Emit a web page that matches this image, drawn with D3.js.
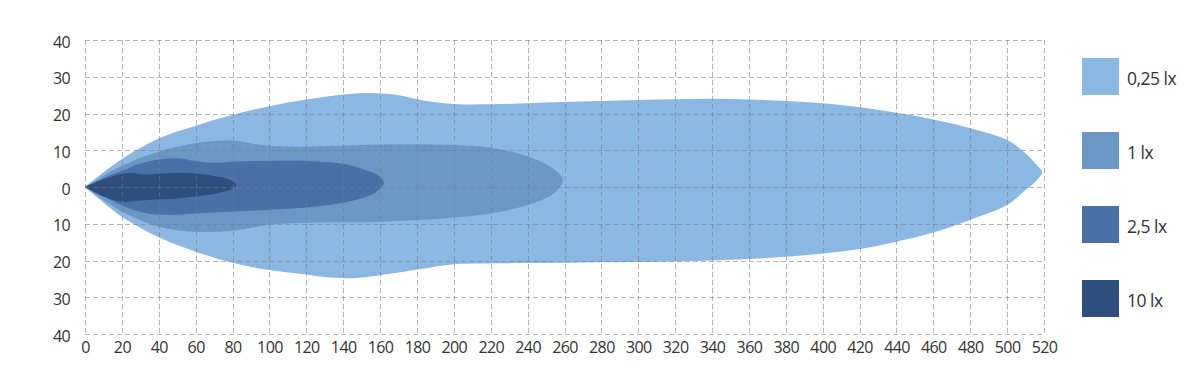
<!DOCTYPE html>
<html><head><meta charset="utf-8">
<script src="https://cdn.jsdelivr.net/npm/d3@7"></script>
<style>
html,body{margin:0;padding:0;background:#fff;}
svg{display:block;font-family:"Open Sans",sans-serif;}
</style></head>
<body><svg id="chart" width="1200" height="382"></svg>
<script>
// Tick labels
const xTicks = d3.range(0, 521, 20);
const yTicks = [40, 30, 20, 10, 0, -10, -20, -30, -40];
const legendLabels = ["0,25 lx", "1 lx", "2,5 lx", "10 lx"];
const levelColors = ["#8ab8e2", "#6b97c5", "#4971a7", "#2e4f7e"];

// Isolux contours: [distance, lateral]
const lux025Upper = [[0,0],[20,7.6],[40,13.2],[60,16.7],[80,19.6],[100,22],[120,23.8],[140,25.2],[155,25.6],[170,25],[185,23.4],[200,22.6],[220,22.5],[240,22.8],[260,23.1],[280,23.4],[300,23.7],[320,23.9],[340,24],[360,23.8],[380,23.4],[400,22.8],[420,21.7],[440,20.2],[460,18.4],[480,16],[500,12.8],[510,9.2],[516,6],[519,4]];
const lux025Lower = [[519,4],[516,1.8],[510,-0.8],[500,-4.9],[480,-8.9],[460,-12.4],[440,-14.9],[420,-16.9],[400,-18.1],[380,-19],[360,-19.6],[340,-20],[320,-20.3],[300,-20.4],[280,-20.5],[260,-20.6],[240,-20.7],[215,-20.8],[200,-21],[182,-22.3],[160,-24],[145,-24.8],[130,-24.5],[120,-23.8],[100,-22.6],[80,-20.6],[60,-17.6],[40,-13.7],[20,-8.1],[0,0]];

const lux1Upper = [[0,0],[20,5.8],[40,9.6],[60,11.9],[80,12.6],[95,11.5],[110,11],[140,11.3],[170,11.6],[200,11.4],[220,10.7],[240,8.3],[252,5.6],[259,2.2]];
const lux1Lower = [[259,2.2],[255,-1.4],[240,-4.9],[220,-7.2],[200,-8.3],[180,-9],[160,-9.5],[140,-9.6],[120,-9.7],[100,-10.3],[80,-11.9],[60,-12.2],[40,-10.8],[20,-6.7],[0,0]];

const lux25Upper = [[0,0],[10,2.4],[20,4.4],[30,6.4],[40,7.5],[50,7.8],[60,7],[70,6.6],[80,6.9],[100,7.1],[120,7.1],[140,6.3],[152,4.6],[160,2.8],[162,1.2]];
const lux25Lower = [[162,1.2],[160,-0.5],[155,-2.2],[140,-4.3],[120,-5.6],[100,-6.2],[80,-6.7],[60,-7.2],[45,-7.6],[35,-7.3],[20,-5],[10,-2.5],[0,0]];

const lux10Upper = [[0,0],[10,2.1],[20,3.6],[25,3.8],[32,3.4],[40,3.6],[50,3.8],[60,3.7],[70,3],[78,2.1],[82,0.6]];
const lux10Lower = [[82,0.6],[80,-0.5],[70,-1.9],[60,-2.6],[50,-3.1],[40,-3.3],[30,-3.7],[20,-4],[10,-2.6],[0,0]];

const contours = [
  lux025Upper.concat(lux025Lower.slice(1)),
  lux1Upper.concat(lux1Lower.slice(1)),
  lux25Upper.concat(lux25Lower.slice(1)),
  lux10Upper.concat(lux10Lower.slice(1))
];

const svg = d3.select("#chart");
const x = d3.scaleLinear().domain([0, 520]).range([85, 1044]);
const y = d3.scaleLinear().domain([-40, 40]).range([334, 40]);

const line = d3.line().x(d => x(d[0])).y(d => y(d[1])).curve(d3.curveCatmullRom.alpha(0.5));

svg.append("g").selectAll("path").data(contours).join("path")
  .attr("d", d => line(d) + "Z")
  .attr("fill", (d, i) => levelColors[i]);

// grid on top
const grid = svg.append("g").attr("stroke", "#7a7a7a").attr("stroke-opacity", 0.55)
  .attr("stroke-width", 1).attr("stroke-dasharray", "5,3").attr("fill", "none");
grid.selectAll("line.v").data(xTicks).join("line").attr("class", "v")
  .attr("x1", d => Math.round(x(d)) + 0.5).attr("x2", d => Math.round(x(d)) + 0.5)
  .attr("y1", y(40)).attr("y2", y(-40));
grid.selectAll("line.h").data(yTicks).join("line").attr("class", "h")
  .attr("y1", d => Math.round(y(d)) + 0.5).attr("y2", d => Math.round(y(d)) + 0.5)
  .attr("x1", x(0)).attr("x2", x(520));

// axes
const xAxis = d3.axisBottom(x).tickValues(xTicks).tickSize(0).tickPadding(0);
const gx = svg.append("g").attr("transform", `translate(0,${y(-40) + 8})`).call(xAxis);
gx.select(".domain").remove();
gx.selectAll("text").attr("font-size", 16).attr("fill", "#333")
  .attr("font-family", "Open Sans").attr("letter-spacing", "-0.6").attr("dy", "0.71em");

const yAxis = d3.axisLeft(y).tickValues(yTicks).tickSize(0).tickPadding(0).tickFormat(d => Math.abs(d));
const gy = svg.append("g").attr("transform", `translate(70,2)`).call(yAxis);
gy.select(".domain").remove();
gy.selectAll("text").attr("font-size", 16).attr("fill", "#333")
  .attr("font-family", "Open Sans").attr("letter-spacing", "-0.6");

// legend
const lg = svg.append("g").selectAll("g").data(legendLabels).join("g")
  .attr("transform", (d, i) => `translate(1082,${58 + i * 74})`);
lg.append("rect").attr("width", 37).attr("height", 37).attr("fill", (d, i) => levelColors[i]);
lg.append("text").attr("x", 45).attr("y", 27).attr("font-size", 17.5).attr("fill", "#333")
  .attr("letter-spacing", "-0.5").text(d => d);
</script></body></html>
